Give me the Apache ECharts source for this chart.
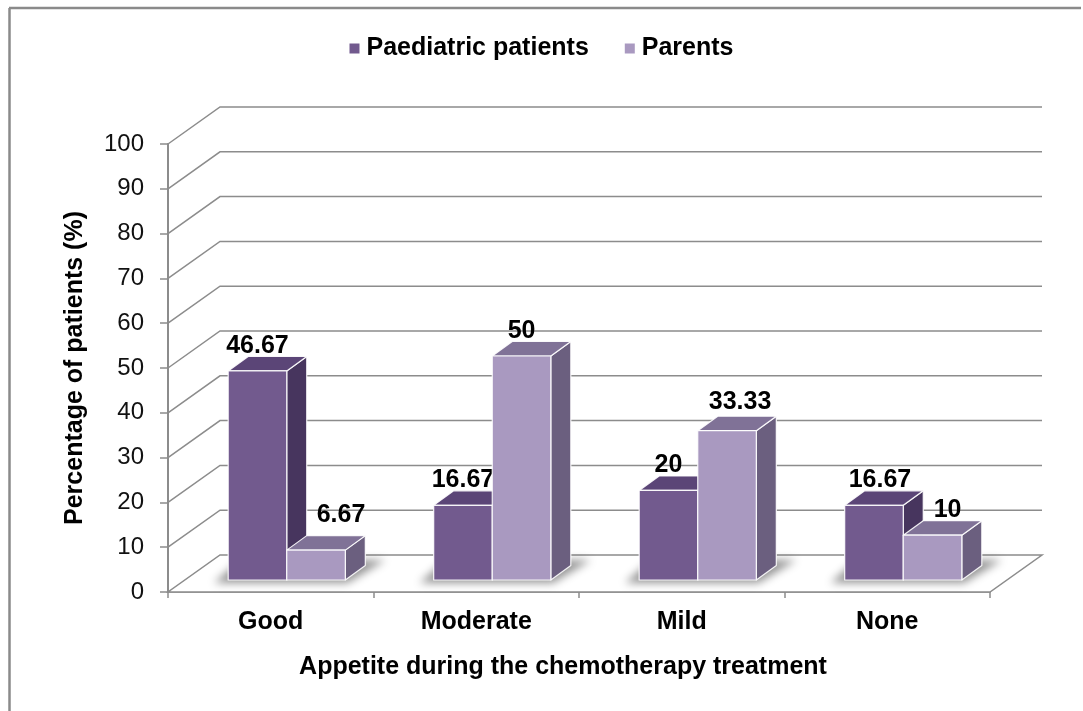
<!DOCTYPE html>
<html>
<head>
<meta charset="utf-8">
<script src="https://cdn.jsdelivr.net/npm/echarts@6/dist/echarts.min.js"></script>
<style>
  html, body { margin: 0; padding: 0; background: #fff; overflow: hidden; }
  #main { width: 1083px; height: 711px; }
</style>
</head>
<body>
<div id="main"></div>
<script>
// 数据
const categories = ['Good', 'Moderate', 'Mild', 'None'];
const paediatric = [46.67, 16.67, 20, 16.67];
const parents = [6.67, 50, 33.33, 10];
const yTicks = [0, 10, 20, 30, 40, 50, 60, 70, 80, 90, 100];

const FONT = '"Liberation Sans", Arial, sans-serif';
const BOLD = 25;

// 3D 偏移 (像素)
const WALL = [52, -37];     // 后墙相对前轴平面
const PLANE = [16, -12];    // 柱子正面所在平面
const DEPTH = [20, -14.5];  // 柱子厚度
const FAR = 3000;           // 阴影只画模糊部分

// 标签微调
const labelNudge = {
  '1-0': [25, -10],
  '1-2': [13, -4],
  '1-3': [15, 0],
  '0-3': [6, 0]
};

const palette = [
  {front: '#725A8E', top: '#5B4577', side: '#47355E'},
  {front: '#A999C0', top: '#807297', side: '#6B5F7F'}
];

function wallRender(params, api) {
  const cs = params.coordSys;
  const v = api.value(1);
  const y = api.coord([0, v])[1];
  const x0 = cs.x, x1 = cs.x + cs.width;
  const children = [];
  if (v === 0) {
    children.push({
      type: 'polygon',
      shape: {points: [[x0, y], [x1, y], [x1 + WALL[0], y + WALL[1]], [x0 + WALL[0], y + WALL[1]]]},
      style: {fill: '#fff', stroke: '#8c8c8c', lineWidth: 1.5}
    });
  } else {
    children.push({
      type: 'polyline',
      shape: {points: [[x0, y], [x0 + WALL[0], y + WALL[1]], [x1 + WALL[0], y + WALL[1]]]},
      style: {fill: null, stroke: '#8c8c8c', lineWidth: 1.5}
    });
  }
  return {type: 'group', children: children};
}

function barRender(s) {
  const c = palette[s];
  return function (params, api) {
    const cat = api.value(0);
    const val = api.value(1);
    const base = api.coord([cat, 0]);
    const topP = api.coord([cat, val]);
    const bw = api.size([1, 0])[0] * 0.285;
    const cx = base[0] + PLANE[0];
    const yb = base[1] + PLANE[1];
    const yt = topP[1] + PLANE[1];
    const L = s === 0 ? cx - bw : cx;
    const R = s === 0 ? cx : cx + bw;
    const dx = DEPTH[0], dy = DEPTH[1];
    const edge = {stroke: 'rgba(255,255,255,0.9)', lineWidth: 1.2, lineJoin: 'round'};
    const children = [];
    if (s === 0) {
      // 地面阴影
      const pts = [[L - 14, yb + 3], [cx + bw + 2, yb + 3], [cx + bw + 40, yb - 20], [L + 12, yb - 20]];
      children.push({
        type: 'polygon',
        shape: {points: pts.map(p => [p[0] - FAR, p[1]])},
        style: {fill: '#000', shadowBlur: 9, shadowOffsetX: FAR, shadowColor: 'rgba(0,0,0,0.42)'}
      });
    }
    children.push({
      type: 'polygon',
      shape: {points: [[R, yb], [R + dx, yb + dy], [R + dx, yt + dy], [R, yt]]},
      style: Object.assign({fill: c.side}, edge)
    });
    children.push({
      type: 'polygon',
      shape: {points: [[L, yt], [R, yt], [R + dx, yt + dy], [L + dx, yt + dy]]},
      style: Object.assign({fill: c.top}, edge)
    });
    children.push({
      type: 'polygon',
      shape: {points: [[L, yb], [R, yb], [R, yt], [L, yt]]},
      style: Object.assign({fill: c.front}, edge)
    });
    const nudge = labelNudge[s + '-' + cat] || [0, 0];
    children.push({
      type: 'text',
      z2: 10,
      style: {
        text: String(val),
        x: (L + R) / 2 + nudge[0],
        y: yt + dy + 2 + nudge[1],
        align: 'center',
        verticalAlign: 'bottom',
        fill: '#000',
        font: 'bold ' + BOLD + 'px ' + FONT
      }
    });
    return {type: 'group', children: children};
  };
}

function seriesData(values) {
  return values.map((v, i) => [i, v]);
}

const boldText = {fontSize: BOLD, fontWeight: 'bold', color: '#000', fontFamily: FONT};

const option = {
  animation: false,
  backgroundColor: '#fff',
  textStyle: {fontFamily: FONT},
  graphic: [
    {type: 'line', shape: {x1: 9, y1: 8, x2: 1081, y2: 8}, style: {stroke: '#8a8a8a', lineWidth: 2.5}},
    {type: 'line', shape: {x1: 9.5, y1: 8, x2: 9.5, y2: 711}, style: {stroke: '#8a8a8a', lineWidth: 2.5}}
  ],
  legend: {
    top: 31,
    left: 'center',
    data: ['Paediatric patients', 'Parents'],
    icon: 'rect',
    itemWidth: 10,
    itemHeight: 10,
    itemGap: 36,
    textStyle: Object.assign({padding: [0, 0, 0, 2]}, boldText)
  },
  grid: {left: 168, right: 93, top: 144, bottom: 119, containLabel: false},
  xAxis: {
    type: 'category',
    data: categories,
    name: 'Appetite during the chemotherapy treatment',
    nameLocation: 'middle',
    nameGap: 63,
    nameTextStyle: Object.assign({padding: [0, 32, 0, 0]}, boldText),
    axisLine: {show: true, lineStyle: {color: '#8c8c8c', width: 1.5}},
    axisTick: {show: true, length: 6, lineStyle: {color: '#8c8c8c', width: 1.5}},
    axisLabel: Object.assign({margin: 18}, boldText),
    splitLine: {show: false}
  },
  yAxis: {
    type: 'value',
    min: 0,
    max: 100,
    interval: 10,
    name: 'Percentage of patients (%)',
    nameLocation: 'middle',
    nameGap: 80,
    nameTextStyle: boldText,
    axisLine: {show: true, lineStyle: {color: '#8c8c8c', width: 2}},
    axisTick: {show: true, length: 8, lineStyle: {color: '#8c8c8c', width: 1.5}},
    axisLabel: {fontSize: 24, color: '#111', fontFamily: FONT, margin: 24},
    splitLine: {show: false}
  },
  series: [
    {
      type: 'custom',
      name: 'walls',
      clip: false,
      silent: true,
      renderItem: wallRender,
      data: yTicks.map(v => [0, v]),
      z: 1
    },
    {
      type: 'custom',
      name: 'Paediatric patients',
      clip: false,
      itemStyle: {color: palette[0].front},
      renderItem: barRender(0),
      data: seriesData(paediatric),
      z: 2
    },
    {
      type: 'custom',
      name: 'Parents',
      clip: false,
      itemStyle: {color: palette[1].front},
      renderItem: barRender(1),
      data: seriesData(parents),
      z: 3
    }
  ]
};

const myChart = echarts.init(document.getElementById('main'));
myChart.setOption(option);
</script>
</body>
</html>
